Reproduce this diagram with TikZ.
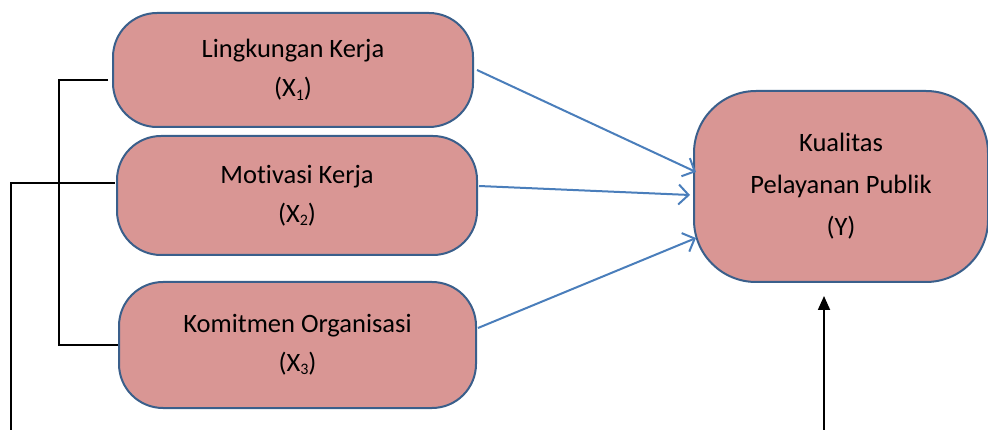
\documentclass[tikz,border=0pt]{standalone}
\usepackage{fontspec}
\setmainfont{Carlito}[RawFeature=-liga]
\usetikzlibrary{arrows.meta}
\definecolor{boxfill}{HTML}{D99694}
\definecolor{boxline}{HTML}{3A5F8B}
\definecolor{arrowblue}{HTML}{4A7EBB}
\newcommand{\lowdigit}[1]{\raisebox{-0.12em}{\fontsize{16}{16}\selectfont #1}}
\begin{document}
\begin{tikzpicture}[x=1pt,y=-1pt,
    varbox/.style={draw=boxline,line width=2pt,fill=boxfill,rounded corners=44pt,
        align=center,font=\fontsize{26.5}{39}\selectfont,inner sep=0pt},
    blueline/.style={draw=arrowblue,line width=2pt,-{Straight Barb[length=10pt,width=20pt,line width=2pt]}},
    blackline/.style={draw=black,line width=1.8pt}]
    \useasboundingbox (0,0) rectangle (988,430);
    \node[varbox,minimum width=360pt,minimum height=114pt] (X1) at (293,70) {Lingkungan Kerja\\(X\lowdigit{1})};
    \node[varbox,minimum width=360pt,minimum height=119pt] (X2) at (297,195.5) {Motivasi Kerja\\(X\lowdigit{2})};
    \node[varbox,minimum width=357pt,minimum height=126pt] (X3) at (297.5,345) {Komitmen Organisasi\\(X\lowdigit{3})};
    \node[varbox,rounded corners=62pt,minimum width=294pt,minimum height=191pt,
        font=\fontsize{26.5}{42}\selectfont] (Y) at (841,186.5) {Kualitas\\Pelayanan Publik\\(Y)};
    \coordinate (bl) at (11,430);
    \coordinate (br) at (824,430);
    % blue arrows
    \draw[blueline] ([xshift=3pt]X1.east) -- ([xshift=3pt,yshift=14.5pt]Y.west);
    \draw[blueline] ([xshift=1pt,yshift=9.5pt]X2.east) -- ([xshift=-3pt,yshift=-8.5pt]Y.west);
    \draw[blueline] ([xshift=1pt,yshift=17pt]X3.east) -- ([xshift=3pt,yshift=-51.5pt]Y.west);
    % black lines
    \draw[blackline] ([xshift=-4pt,yshift=-10pt]X1.west) -- ++(-49pt,0) |- (X3.west);
    \draw[blackline] ([xshift=-1pt,yshift=12.5pt]X2.west) -| (bl);
    \draw[blackline,-{Triangle[length=14pt,width=12pt]}] (br) -- ([xshift=-17pt,yshift=-13pt]Y.south);
\end{tikzpicture}
\end{document}
